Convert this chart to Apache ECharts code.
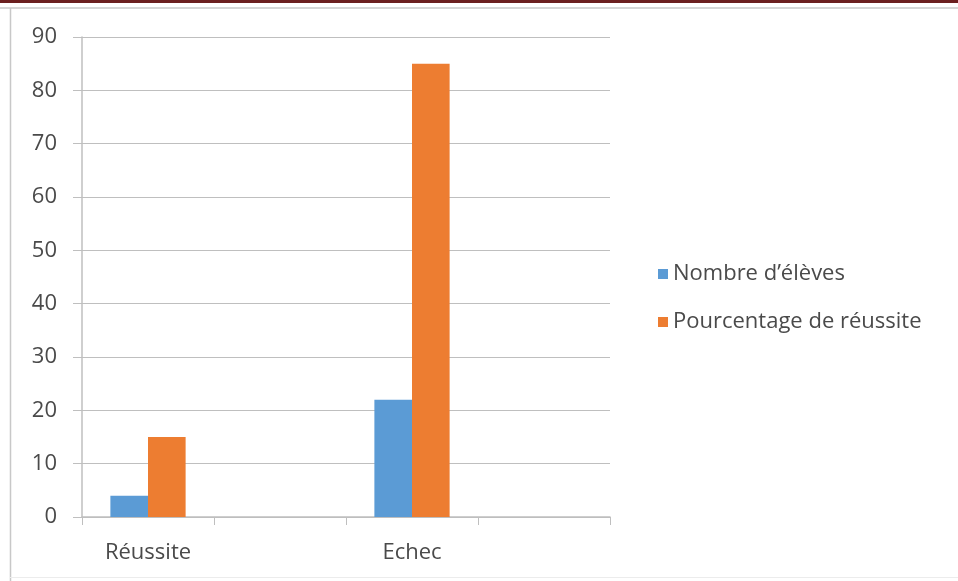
<!DOCTYPE html>
<html>
<head>
<meta charset="utf-8">
<script src="https://cdn.jsdelivr.net/npm/echarts@6/dist/echarts.min.js"></script>
<style>
  html, body { margin: 0; padding: 0; background: #ffffff; }
  #chart { width: 958px; height: 581px; }
</style>
</head>
<body>
<div id="chart"></div>
<script>
// Categories (two trailing/inner slots are left empty, as in the source sheet)
const categories = ['Réussite', '', 'Echec', ''];
const nombreEleves = [4, null, 22, null];
const pourcentageReussite = [15, null, 85, null];
const seriesNames = ['Nombre d\u2019élèves', 'Pourcentage de réussite'];
const yMin = 0, yMax = 90, yStep = 10;

const textColor = '#4a4a4a';
const font = '"Open Sans", "Liberation Sans", sans-serif';

const chart = echarts.init(document.getElementById('chart'), null, { renderer: 'canvas' });
chart.setOption({
  backgroundColor: '#ffffff',
  animation: false,
  graphic: [
    { type: 'rect', shape: { x: 0, y: 0, width: 958, height: 3 }, style: { fill: '#6b1f1f' } },
    { type: 'line', shape: { x1: 0, y1: 8, x2: 958, y2: 8 }, style: { stroke: '#c8c8c8', lineWidth: 1.5 } },
    { type: 'line', shape: { x1: 10.5, y1: 8, x2: 10.5, y2: 581 }, style: { stroke: '#c8c8c8', lineWidth: 1.5 } },
    { type: 'line', shape: { x1: 10, y1: 577.5, x2: 958, y2: 577.5 }, style: { stroke: '#ececec', lineWidth: 1 } }
  ],
  grid: { left: 82, right: 348, top: 37, bottom: 64 },
  legend: {
    orient: 'vertical',
    left: 653,
    top: 258,
    itemWidth: 10,
    itemHeight: 10,
    itemGap: 26,
    icon: 'rect',
    textStyle: { color: textColor, fontSize: 22, lineHeight: 22, fontFamily: font },
    data: seriesNames
  },
  xAxis: {
    type: 'category',
    data: categories,
    axisLine: { lineStyle: { color: '#bfbfbf', width: 1.5 } },
    axisTick: { show: true, length: 8, lineStyle: { color: '#bfbfbf' } },
    axisLabel: { color: textColor, fontSize: 22, fontFamily: font, margin: 25 }
  },
  yAxis: {
    type: 'value',
    min: yMin, max: yMax, interval: yStep,
    axisLine: { show: true, lineStyle: { color: '#bfbfbf', width: 1.5 } },
    axisTick: { show: true, length: 9, lineStyle: { color: '#bfbfbf' } },
    splitLine: { lineStyle: { color: '#bfbfbf', width: 1.2 } },
    axisLabel: { color: textColor, fontSize: 22, fontFamily: font, margin: 25 }
  },
  series: [
    {
      name: seriesNames[0], type: 'bar', data: nombreEleves,
      itemStyle: { color: '#5b9bd5' },
      barGap: '0%', barCategoryGap: '43%'
    },
    {
      name: seriesNames[1], type: 'bar', data: pourcentageReussite,
      itemStyle: { color: '#ed7d31' },
      barGap: '0%', barCategoryGap: '43%'
    }
  ]
});
</script>
</body>
</html>
